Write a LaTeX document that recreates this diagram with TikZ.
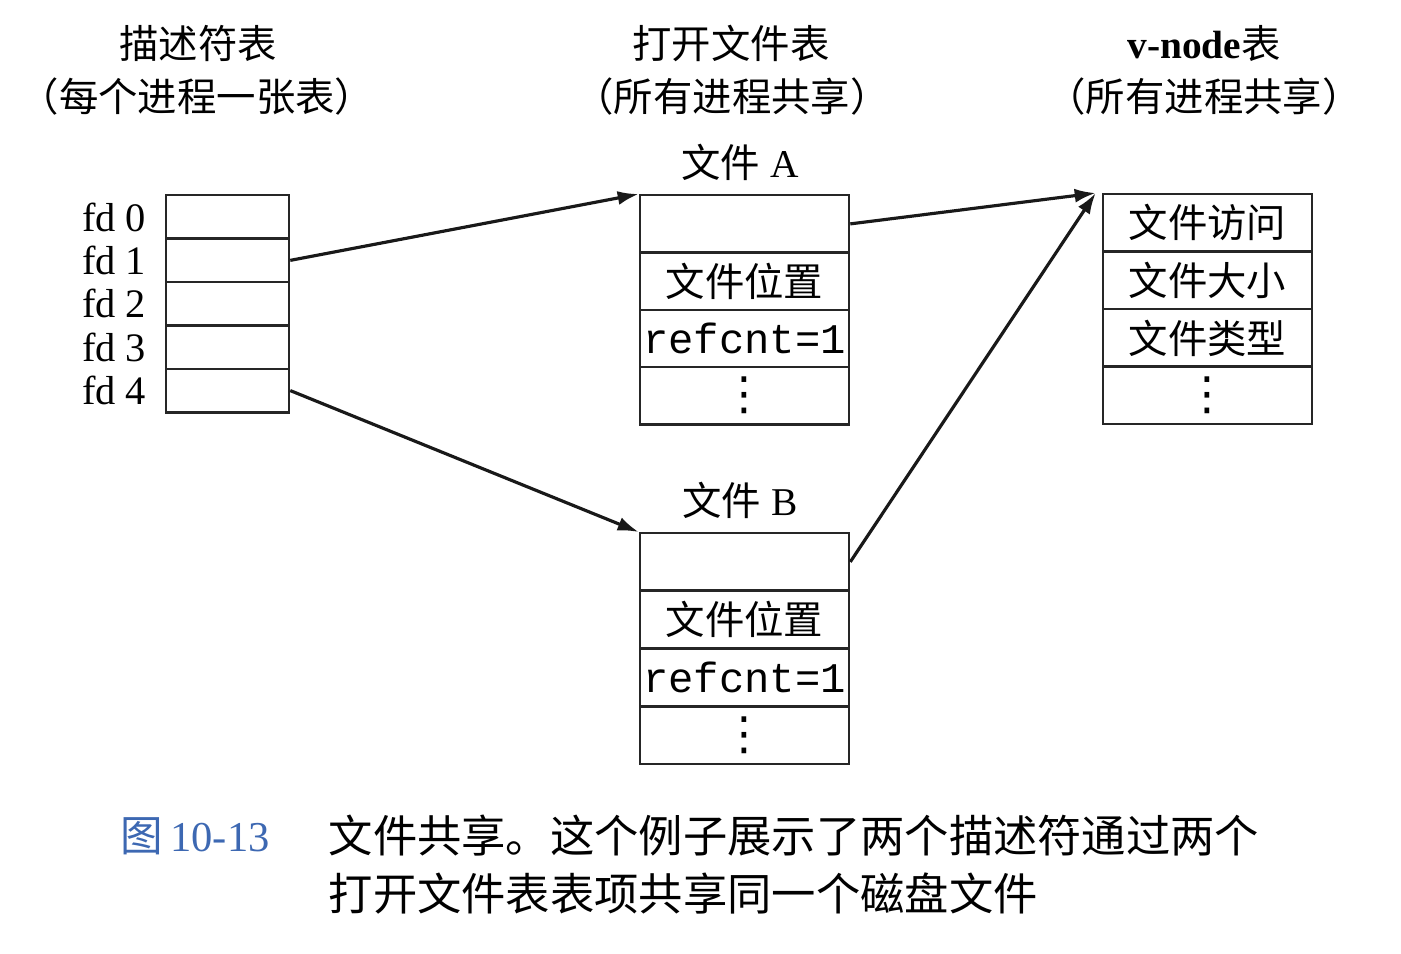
\documentclass[tikz,border=0pt]{standalone}
\usepackage{fontspec}
\setmainfont{Liberation Serif}
\setmonofont{Liberation Mono}
\newfontfamily\cjk{Noto Sans CJK SC}
\newfontfamily\symf{DejaVu Sans}
\usepackage{tikz}
\usetikzlibrary{
  arrows.meta,
  positioning,
}
\definecolor{capblue}{HTML}{3D68B2}
\newcommand{\moredots}{{\symf\fontsize{13}{14}\selectfont ⋮}}
\tikzset{
  fdcell/.style={
    rectangle, draw=black!85, line width=0.7pt, inner sep=0pt,
    minimum width=1.23cm, minimum height=0.434cm, anchor=north,
  },
  fdlabel/.style={
    inner sep=0pt, font=\fontsize{11.5}{13}\selectfont,
  },
  tabcell/.style={
    rectangle, draw=black!85, line width=0.7pt, inner sep=0pt,
    minimum width=2.09cm, minimum height=0.5725cm, anchor=north,
    font=\fontsize{11.2}{13}\selectfont\cjk, align=center,
  },
  header/.style={
    inner sep=0pt, font=\fontsize{11.2}{13}\selectfont\cjk,
  },
  caption/.style={
    inner sep=0pt, anchor=west, font=\fontsize{12.6}{14}\selectfont\cjk,
  },
  ptr/.style={
    -{Latex[length=2.1mm,width=1.4mm]}, line width=0.9pt, draw=black!90,
  },
}

\begin{document}
\begin{tikzpicture}[x=0.01cm, y=-0.01cm]
\useasboundingbox (0,0) rectangle (1401,953);

% Column headers
\node[header] (hdesc) at (198, 43) {描述符表};
\node[header] (hdescsub) at (197, 97) {（每个进程一张表）};
\node[header] (hopen) at (731, 43) {打开文件表};
\node[header] (hopensub) at (732, 97) {（所有进程共享）};
\node[header] (hvnode) at (1204, 43) {{\rmfamily\bfseries v-node}表};
\node[header] (hvnodesub) at (1204, 97) {（所有进程共享）};

% Descriptor table: fd 0 .. fd 4
\foreach \i in {0,...,4}
{
  \node[fdcell] (fd\i) at (227.5, {194 + \i*43.4}) {};
  \node[fdlabel, left=0.18cm of fd\i] (fdlab\i) {fd \i};
}

% Open file table entries A and B
\node[header, font=\fontsize{11.2}{13}\selectfont] (labA) at (740, 162)
   {{\cjk 文件}~A};
\foreach \i/\txt in {0/{}, 1/{文件位置},
  2/{\ttfamily\fontsize{12}{14}\selectfont refcnt=1}, 3/{\moredots}}
{
  \node[tabcell] (fA\i) at (744.5, {194 + \i*57.25}) {\txt};
}
\node[header, font=\fontsize{11.2}{13}\selectfont] (labB) at (740, 500)
   {{\cjk 文件}~B};
\foreach \i/\txt in {0/{}, 1/{文件位置},
  2/{\ttfamily\fontsize{12}{14}\selectfont refcnt=1}, 3/{\moredots}}
{
  \node[tabcell] (fB\i) at (744.5, {532 + \i*57.75}) {\txt};
}

% v-node table
\foreach \i/\txt in {0/{文件访问}, 1/{文件大小}, 2/{文件类型}, 3/{\moredots}}
{
  \node[tabcell] (v\i) at (1207.5, {193 + \i*57.5}) {\txt};
}
\coordinate (vin) at ([xshift=-0.06cm]v0.north west);

% Pointers
\draw[ptr] (fd1.east) -- (fA0.north west);
\draw[ptr] (fd4.east) -- (fB0.north west);
\draw[ptr] (fA0.east) -- (vin);
\draw[ptr] (fB0.east) -- (vin);

% Caption
\node[caption, font=\fontsize{12.1}{14}\selectfont\cjk, text=capblue]
   (capnum) at (120, 836) {图\,{\rmfamily 10-13}};
\node[caption] (cap1) at (328, 836)
   {文件共享。这个例子展示了两个描述符通过两个};
\node[caption] (cap2) at (328, 893)
   {打开文件表表项共享同一个磁盘文件};

\end{tikzpicture}
\end{document}
